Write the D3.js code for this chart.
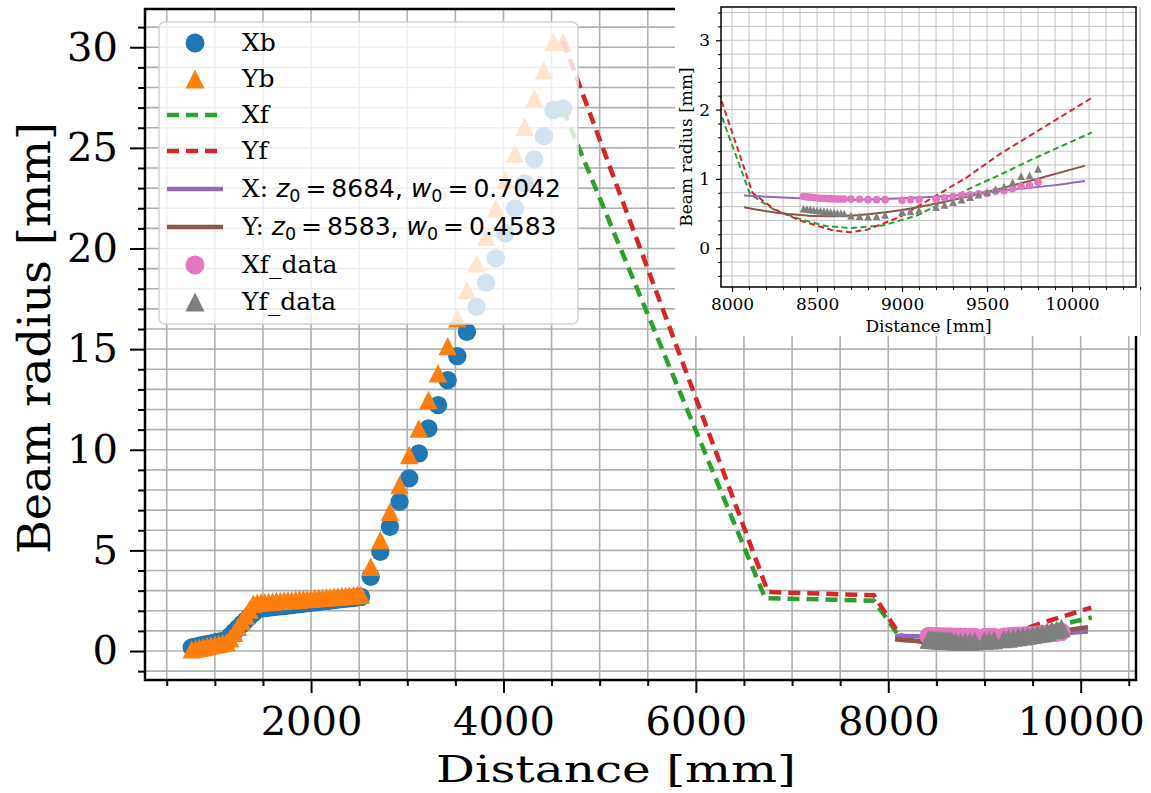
<!DOCTYPE html>
<html><head><meta charset="utf-8">
<script src="https://cdn.jsdelivr.net/npm/d3@7"></script>
<style>body{margin:0;background:#fff}svg{display:block}</style>
</head><body>
<svg id="c" width="1151" height="793"></svg>
<script>
// ---------------- DATA ----------------
const beamDist = [760,800,840,880,920,960,1000,1040,1080,1120,1160,1200,1240,1280,1320,1360,1400,1440,1480,1520,1560,1600,1640,1680,1720,1760,1800,1840,1880,1920,1960,2000,2040,2080,2120,2160,2200,2240,2280,2320,2360,2400,2440,2480,2520,
  2620,2720,2820,2920,3020,3120,3220,3320,3420,3520,3620,3720,3820,3920,4020,4120,4220,4320,4420,4520,4620];
const xbVals = [0.18,0.22,0.26,0.30,0.34,0.38,0.42,0.46,0.50,0.55,0.75,0.95,1.14,1.33,1.52,1.70,1.88,2.06,2.11,2.13,2.15,2.18,2.20,2.22,2.24,2.26,2.29,2.31,2.33,2.35,2.38,2.40,2.42,2.44,2.47,2.49,2.51,2.53,2.56,2.58,2.60,2.62,2.64,2.67,2.69,
  3.69,4.93,6.17,7.42,8.58,9.82,11.06,12.22,13.46,14.65,15.86,17.10,18.30,19.51,20.75,21.99,23.23,24.43,25.58,26.88,26.96];
const ybVals = [0.08,0.12,0.16,0.20,0.24,0.28,0.32,0.36,0.40,0.44,0.63,0.91,1.20,1.49,1.77,2.06,2.35,2.40,2.42,2.43,2.45,2.46,2.48,2.49,2.51,2.52,2.53,2.55,2.56,2.58,2.59,2.61,2.62,2.64,2.65,2.67,2.68,2.70,2.71,2.73,2.74,2.75,2.77,2.78,2.80,
  4.19,5.51,6.92,8.25,9.74,11.06,12.47,13.80,15.15,16.53,17.93,19.26,20.58,21.99,23.40,24.72,26.05,27.46,28.86,30.27,30.27];

const xfDist = [4620,6720,7850,8106,8250,8400,8550,8694,8890,9086,9184,9380,9576,9772,10116];
const xfVals = [26.9,2.63,2.50,0.78,0.55,0.42,0.32,0.29,0.33,0.47,0.59,0.84,1.06,1.29,1.67];
const yfDist = [4620,6750,7850,8120,8250,8400,8596,8694,8792,8988,9184,9380,9576,10110];
const yfVals = [30.3,2.93,2.77,0.80,0.56,0.40,0.255,0.23,0.265,0.45,0.735,1.02,1.36,2.16];

const fitXDist = [8070,8300,8500,8684,8900,9100,9300,9500,9700,9900,10076];
const fitXVals = [0.76,0.73,0.71,0.70,0.71,0.73,0.76,0.81,0.86,0.91,0.97];
const fitYDist = [8070,8300,8583,8800,9000,9250,9500,9750,10076];
const fitYVals = [0.59,0.50,0.46,0.49,0.55,0.67,0.81,0.97,1.19];
const fitZ0 = [8684, 8583];
const fitW0 = ["0.7042", "0.4583"];

const measDist = [8420,8440,8460,8480,8500,8520,8540,8560,8580,8600,8620,8640,8660,8700,8750,8800,8850,8900,9000,9050,9100,9200,9250,9300,9350,9400,9450,9500,9550,9600,9650,9700,9750,9800];
const xfDataVals = [0.745,0.74,0.735,0.73,0.725,0.72,0.72,0.715,0.715,0.71,0.71,0.71,0.71,0.71,0.707,0.70,0.70,0.70,0.69,0.70,0.70,0.707,0.727,0.745,0.76,0.77,0.785,0.79,0.82,0.83,0.857,0.89,0.905,0.95];
const yfDataVals = [0.57,0.565,0.56,0.55,0.545,0.54,0.535,0.53,0.52,0.515,0.51,0.505,0.50,0.47,0.46,0.455,0.46,0.48,0.52,0.53,0.545,0.59,0.625,0.665,0.70,0.735,0.77,0.81,0.85,0.89,0.95,1.04,1.05,1.145];

const mainXTicks = [2000,4000,6000,8000,10000];
const mainYTicks = [0,5,10,15,20,25,30];
const insetXTicks = [8000,8500,9000,9500,10000];
const insetYTicks = [0,1,2,3];
const legendNames = ["Xb","Yb","Xf","Yf","X","Y","Xf_data","Yf_data"];
const xLabel = "Distance [mm]";
const yLabel = "Beam radius [mm]";

// ---------------- STYLE ----------------
const serif = "'DejaVu Serif', serif";
const sans = "'DejaVu Sans', sans-serif";
const C = {blue:'#1f77b4',orange:'#ff7f0e',green:'#2ca02c',red:'#d62728',purple:'#9467bd',brown:'#8c564b',pink:'#e377c2',gray:'#7f7f7f'};
const tri = h => `M0,${-h}L${-h},${h}L${h},${h}Z`;
const zip = (a,b) => a.map((d,i)=>[d,b[i]]);

const svg = d3.select('#c');
const defs = svg.append('defs');

function drawSeries(g, x, y, sty) {
  const line = d3.line().x(d=>x(d[0])).y(d=>y(d[1]));
  g.append('g').selectAll('circle').data(zip(beamDist,xbVals)).join('circle')
    .attr('cx',d=>x(d[0])).attr('cy',d=>y(d[1])).attr('r',sty.r).attr('fill',C.blue);
  g.append('g').selectAll('path').data(zip(beamDist,ybVals)).join('path')
    .attr('transform',d=>`translate(${x(d[0])},${y(d[1])})`).attr('d',tri(sty.r)).attr('fill',C.orange);
  g.append('path').datum(zip(xfDist,xfVals)).attr('d',line).attr('fill','none')
    .attr('stroke',C.green).attr('stroke-width',sty.dw).attr('stroke-dasharray',sty.dash);
  g.append('path').datum(zip(yfDist,yfVals)).attr('d',line).attr('fill','none')
    .attr('stroke',C.red).attr('stroke-width',sty.dw).attr('stroke-dasharray',sty.dash);
  const smooth = d3.line().x(d=>x(d[0])).y(d=>y(d[1])).curve(d3.curveMonotoneX);
  g.append('path').datum(zip(fitXDist,fitXVals)).attr('d',smooth).attr('fill','none')
    .attr('stroke',C.purple).attr('stroke-width',sty.lw);
  g.append('path').datum(zip(fitYDist,fitYVals)).attr('d',smooth).attr('fill','none')
    .attr('stroke',C.brown).attr('stroke-width',sty.lw);
  g.append('g').selectAll('circle').data(zip(measDist,xfDataVals)).join('circle')
    .attr('cx',d=>x(d[0])).attr('cy',d=>y(d[1])).attr('r',sty.r2).attr('fill',C.pink);
  g.append('g').selectAll('path').data(zip(measDist,yfDataVals)).join('path')
    .attr('transform',d=>`translate(${x(d[0])},${y(d[1])})`).attr('d',tri(sty.r2)).attr('fill',C.gray);
}

function styleAxis(g, font, size, tw) {
  g.select('.domain').remove();
  g.selectAll('line').attr('stroke','#000').attr('stroke-width',tw);
  g.selectAll('text').attr('font-family',font).attr('font-size',size).attr('fill','#000');
}

// ---------------- MAIN AXES ----------------
const L=145, R=1136, T=9, B=680;
const x = d3.scaleLinear().domain([274,10575]).range([L,R]);
const y = d3.scaleLinear().domain([-1.44,31.9]).range([B,T]);
defs.append('clipPath').attr('id','mclip').append('rect').attr('x',L).attr('y',T).attr('width',R-L).attr('height',B-T);

const main = svg.append('g');
const grid = main.append('g').attr('stroke','#b0b0b0').attr('stroke-width',1.6);
grid.selectAll('.gv').data(d3.range(500,10501,500)).join('line').attr('class','gv')
  .attr('x1',d=>x(d)).attr('x2',d=>x(d)).attr('y1',T).attr('y2',B);
grid.selectAll('.gh').data(d3.range(-1,32,1)).join('line').attr('class','gh')
  .attr('y1',d=>y(d)).attr('y2',d=>y(d)).attr('x1',L).attr('x2',R);

const mdata = main.append('g').attr('clip-path','url(#mclip)');
drawSeries(mdata, x, y, {r:9.2, r2:9.2, lw:4.5, dw:4.5, dash:'12,7'});

main.append('g').attr('transform',`translate(0,${B})`)
  .call(d3.axisBottom(x).tickValues(d3.range(500,10501,500).filter(v=>v%2000)).tickSize(6).tickFormat(''))
  .call(g=>styleAxis(g,serif,40,2));
main.append('g').attr('transform',`translate(0,${B})`)
  .call(d3.axisBottom(x).tickValues(mainXTicks).tickSize(13).tickPadding(14).tickFormat(d=>d))
  .call(g=>styleAxis(g,serif,40,2));
main.append('g').attr('transform',`translate(${L},0)`)
  .call(d3.axisLeft(y).tickValues(d3.range(-1,32,1).filter(v=>v%5)).tickSize(7).tickFormat(''))
  .call(g=>styleAxis(g,serif,40,2));
main.append('g').attr('transform',`translate(${L},0)`)
  .call(d3.axisLeft(y).tickValues(mainYTicks).tickSize(15).tickPadding(12).tickFormat(d=>d))
  .call(g=>styleAxis(g,serif,40,2));
main.append('rect').attr('x',L).attr('y',T).attr('width',R-L).attr('height',B-T)
  .attr('fill','none').attr('stroke','#000').attr('stroke-width',2.5);

main.append('text').attr('x',616).attr('y',782).attr('text-anchor','middle')
  .attr('font-family',serif).attr('font-size',38)
  .attr('textLength',360).attr('lengthAdjust','spacingAndGlyphs').text(xLabel);
main.append('text').attr('transform',`translate(50,${338}) rotate(-90)`).attr('text-anchor','middle')
  .attr('font-family',serif).attr('font-size',45)
  .attr('textLength',432).attr('lengthAdjust','spacingAndGlyphs').text(yLabel);

// ---------------- LEGEND ----------------
const lg = svg.append('g');
lg.append('rect').attr('x',159).attr('y',22).attr('width',419).attr('height',302).attr('rx',6)
  .attr('fill','#fff').attr('fill-opacity',0.8).attr('stroke','#d4d4d4').attr('stroke-width',1.5);
const rowY = [43,79,115,151,189,227,265,302];
const hx0=167, hx1=223, hxc=195, tx=242;
legendNames.forEach((nm,i)=>{
  const yy=rowY[i];
  if(i===0) lg.append('circle').attr('cx',hxc).attr('cy',yy).attr('r',9.5).attr('fill',C.blue);
  if(i===1) lg.append('path').attr('transform',`translate(${hxc},${yy})`).attr('d',tri(9.5)).attr('fill',C.orange);
  if(i===2||i===3) lg.append('line').attr('x1',hx0).attr('x2',hx1).attr('y1',yy).attr('y2',yy)
     .attr('stroke',i===2?C.green:C.red).attr('stroke-width',4.5).attr('stroke-dasharray','12,7');
  if(i===4||i===5) lg.append('line').attr('x1',hx0).attr('x2',hx1).attr('y1',yy).attr('y2',yy)
     .attr('stroke',i===4?C.purple:C.brown).attr('stroke-width',4.5);
  if(i===6) lg.append('circle').attr('cx',hxc).attr('cy',yy).attr('r',9.5).attr('fill',C.pink);
  if(i===7) lg.append('path').attr('transform',`translate(${hxc},${yy})`).attr('d',tri(9.5)).attr('fill',C.gray);
  const t = lg.append('text').attr('x',tx).attr('y',yy+8).attr('font-family',serif).attr('font-size',25);
  if(i===4||i===5){
    const k=i-4;
    t.append('tspan').text(nm+': ');
    t.append('tspan').attr('font-family',sans).attr('font-style','italic').text('z');
    t.append('tspan').attr('font-family',sans).attr('font-size',17.5).attr('dy',5).text('0');
    t.append('tspan').attr('font-family',sans).attr('dy',-5).text('\u2009=\u2009'+fitZ0[k]+', ');
    t.append('tspan').attr('font-family',sans).attr('font-style','italic').text('w');
    t.append('tspan').attr('font-family',sans).attr('font-size',17.5).attr('dy',5).text('0');
    t.append('tspan').attr('font-family',sans).attr('dy',-5).text('\u2009=\u2009'+fitW0[k]);
  } else t.text(nm);
});

// ---------------- INSET ----------------
const ins = svg.append('g');
ins.append('rect').attr('x',675).attr('y',0).attr('width',466).attr('height',336).attr('fill','#fff');
ins.append('line').attr('x1',1140.5).attr('x2',1140.5).attr('y1',8).attr('y2',336).attr('stroke','#c8c8c8').attr('stroke-width',1);
const iL=721, iR=1136, iT=7, iB=287;
const xi = d3.scaleLinear().domain([7935,10376]).range([iL,iR]);
const yi = d3.scaleLinear().domain([-0.56,3.48]).range([iB,iT]);
defs.append('clipPath').attr('id','iclip').append('rect').attr('x',iL).attr('y',iT).attr('width',iR-iL).attr('height',iB-iT);
const ig = ins.append('g').attr('stroke','#c4c4c4').attr('stroke-width',1);
const ixMinor = d3.range(8000,10401,100);
const iyMinor = d3.range(-4,35,2).map(v=>v/10);
ig.selectAll('.gv').data(ixMinor).join('line').attr('class','gv')
  .attr('x1',d=>xi(d)).attr('x2',d=>xi(d)).attr('y1',iT).attr('y2',iB);
ig.selectAll('.gh').data(iyMinor).join('line').attr('class','gh')
  .attr('y1',d=>yi(d)).attr('y2',d=>yi(d)).attr('x1',iL).attr('x2',iR);
const idata = ins.append('g').attr('clip-path','url(#iclip)');
drawSeries(idata, xi, yi, {r:9.2, r2:3.8, lw:2, dw:2, dash:'6,3.5'});

ins.append('g').attr('transform',`translate(0,${iB})`)
  .call(d3.axisBottom(xi).tickValues(ixMinor.filter(v=>v%500)).tickSize(3).tickFormat(''))
  .call(g=>styleAxis(g,serif,17,1));
ins.append('g').attr('transform',`translate(0,${iB})`)
  .call(d3.axisBottom(xi).tickValues(insetXTicks).tickSize(5).tickPadding(6).tickFormat(d=>d))
  .call(g=>styleAxis(g,serif,17,1.2));
ins.append('g').attr('transform',`translate(${iL},0)`)
  .call(d3.axisLeft(yi).tickValues(iyMinor.filter(v=>Math.abs(v-Math.round(v))>0.01)).tickSize(3).tickFormat(''))
  .call(g=>styleAxis(g,serif,17,1));
ins.append('g').attr('transform',`translate(${iL},0)`)
  .call(d3.axisLeft(yi).tickValues(insetYTicks).tickSize(5).tickPadding(6).tickFormat(d=>d))
  .call(g=>styleAxis(g,serif,17,1.2));
ins.append('rect').attr('x',iL).attr('y',iT).attr('width',iR-iL).attr('height',iB-iT)
  .attr('fill','none').attr('stroke','#000').attr('stroke-width',1.5);
ins.append('text').attr('x',(iL+iR)/2).attr('y',331.5).attr('text-anchor','middle')
  .attr('font-family',serif).attr('font-size',17).text(xLabel);
ins.append('text').attr('transform',`translate(692,${147}) rotate(-90)`).attr('text-anchor','middle')
  .attr('font-family',serif).attr('font-size',17).text(yLabel);
</script>
</body></html>
